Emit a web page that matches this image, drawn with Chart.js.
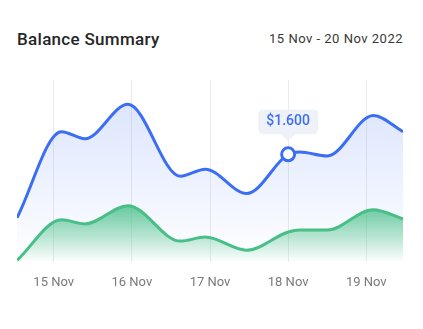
<!DOCTYPE html>
<html>
<head>
<meta charset="utf-8">
<title>Balance Summary</title>
<script src="https://cdn.jsdelivr.net/npm/chart.js@4"></script>
<style>
  body { margin: 0; background: #fff; font-family: Roboto, sans-serif; }
  .card { position: relative; width: 423px; height: 329px; overflow: hidden; }
  .title { position: absolute; left: 17px; top: 31px; font-size: 17px; line-height: 17px; font-weight: 500; color: #262626; letter-spacing: 0.3px; }
  .range { position: absolute; right: 20px; top: 32px; font-size: 13px; line-height: 13px; color: #383838; letter-spacing: 0.5px; }
  .chart-box { position: absolute; left: 0; top: 60px; width: 423px; height: 255px; }
</style>
</head>
<body>
<div class="card">
  <div class="title">Balance Summary</div>
  <div class="range">15 Nov - 20 Nov 2022</div>
  <div class="chart-box"><canvas id="balanceChart"></canvas></div>
</div>
<script>
// day of November for each sample (fractional = part of the day)
const days = [14.53, 15.10, 15.40, 15.95, 16.62, 16.94, 17.47, 18.0, 18.15, 18.5, 19.09, 19.47];
const balance = [660, 1935, 1830, 2340, 1275, 1380, 1020, 1600, 1635, 1575, 2175, 1935];
const spending = [30, 630, 570, 840, 315, 375, 180, 450, 480, 480, 780, 645];
const tickDays = [15, 16, 17, 18, 19];
const highlightIndex = 7; // 18 Nov

const BLUE = '#3b6ef5';
const GREEN = '#47bf86';

// vertical fade from a value down to the bottom of the chart area
function fade(rgb, topAlpha, topValue) {
    return ctx => {
        const chart = ctx.chart;
        const area = chart.chartArea;
        if (!area) return null;
        const top = chart.scales.y.getPixelForValue(topValue);
        const g = chart.ctx.createLinearGradient(0, top, 0, area.bottom);
        g.addColorStop(0, `rgba(${rgb},${topAlpha})`);
        g.addColorStop(1, `rgba(${rgb},0)`);
        return g;
    };
}

const toPoints = values => days.map((d, i) => ({ x: d, y: values[i] }));

const chart = new Chart(document.getElementById('balanceChart'), {
    type: 'line',
    data: {
        datasets: [
            {
                label: 'Spending',
                data: toPoints(spending),
                borderColor: GREEN,
                borderWidth: 3,
                backgroundColor: fade('69,191,134', 0.8, 840),
                fill: 'origin',
                pointRadius: 0,
                pointHoverRadius: 0,
                cubicInterpolationMode: 'monotone'
            },
            {
                label: 'Balance',
                data: toPoints(balance),
                borderColor: BLUE,
                borderWidth: 3,
                backgroundColor: fade('59,110,245', 0.2, 2700),
                fill: 'origin',
                pointRadius: 0,
                pointHoverRadius: 6.5,
                pointHoverBorderWidth: 3,
                pointHoverBackgroundColor: '#fff',
                pointHoverBorderColor: BLUE,
                cubicInterpolationMode: 'monotone'
            }
        ]
    },
    options: {
        responsive: true,
        maintainAspectRatio: false,
        animation: false,
        events: [],
        layout: { padding: { left: 17, right: 20, top: 20, bottom: 11 } },
        plugins: {
            legend: { display: false },
            tooltip: {
                backgroundColor: '#eef1f8',
                bodyColor: BLUE,
                bodyFont: { family: 'Roboto', size: 14, weight: '500' },
                padding: { x: 8, y: 4 },
                cornerRadius: 5,
                caretSize: 7,
                caretPadding: 13,
                displayColors: false,
                xAlign: 'center',
                yAlign: 'bottom',
                callbacks: {
                    title: () => [],
                    label: ctx => '$' + ctx.parsed.y.toLocaleString('de-DE')
                }
            }
        },
        scales: {
            x: {
                type: 'linear',
                min: days[0],
                max: days[days.length - 1],
                afterBuildTicks: scale => {
                    scale.ticks = tickDays.map(v => ({ value: v }));
                },
                ticks: {
                    padding: 13,
                    color: '#7a7a7a',
                    font: { family: 'Roboto', size: 13 },
                    autoSkip: false,
                    maxRotation: 0,
                    callback: v => v + ' Nov'
                },
                grid: { color: '#ebebef', drawTicks: false },
                border: { display: false }
            },
            y: { display: false, min: 0, max: 2700 }
        }
    }
});

// keep the 18 Nov balance point highlighted with its tooltip
const active = [{ datasetIndex: 1, index: highlightIndex }];
chart.setActiveElements(active);
chart.tooltip.setActiveElements(active, { x: 0, y: 0 });
chart.update();
</script>
</body>
</html>
